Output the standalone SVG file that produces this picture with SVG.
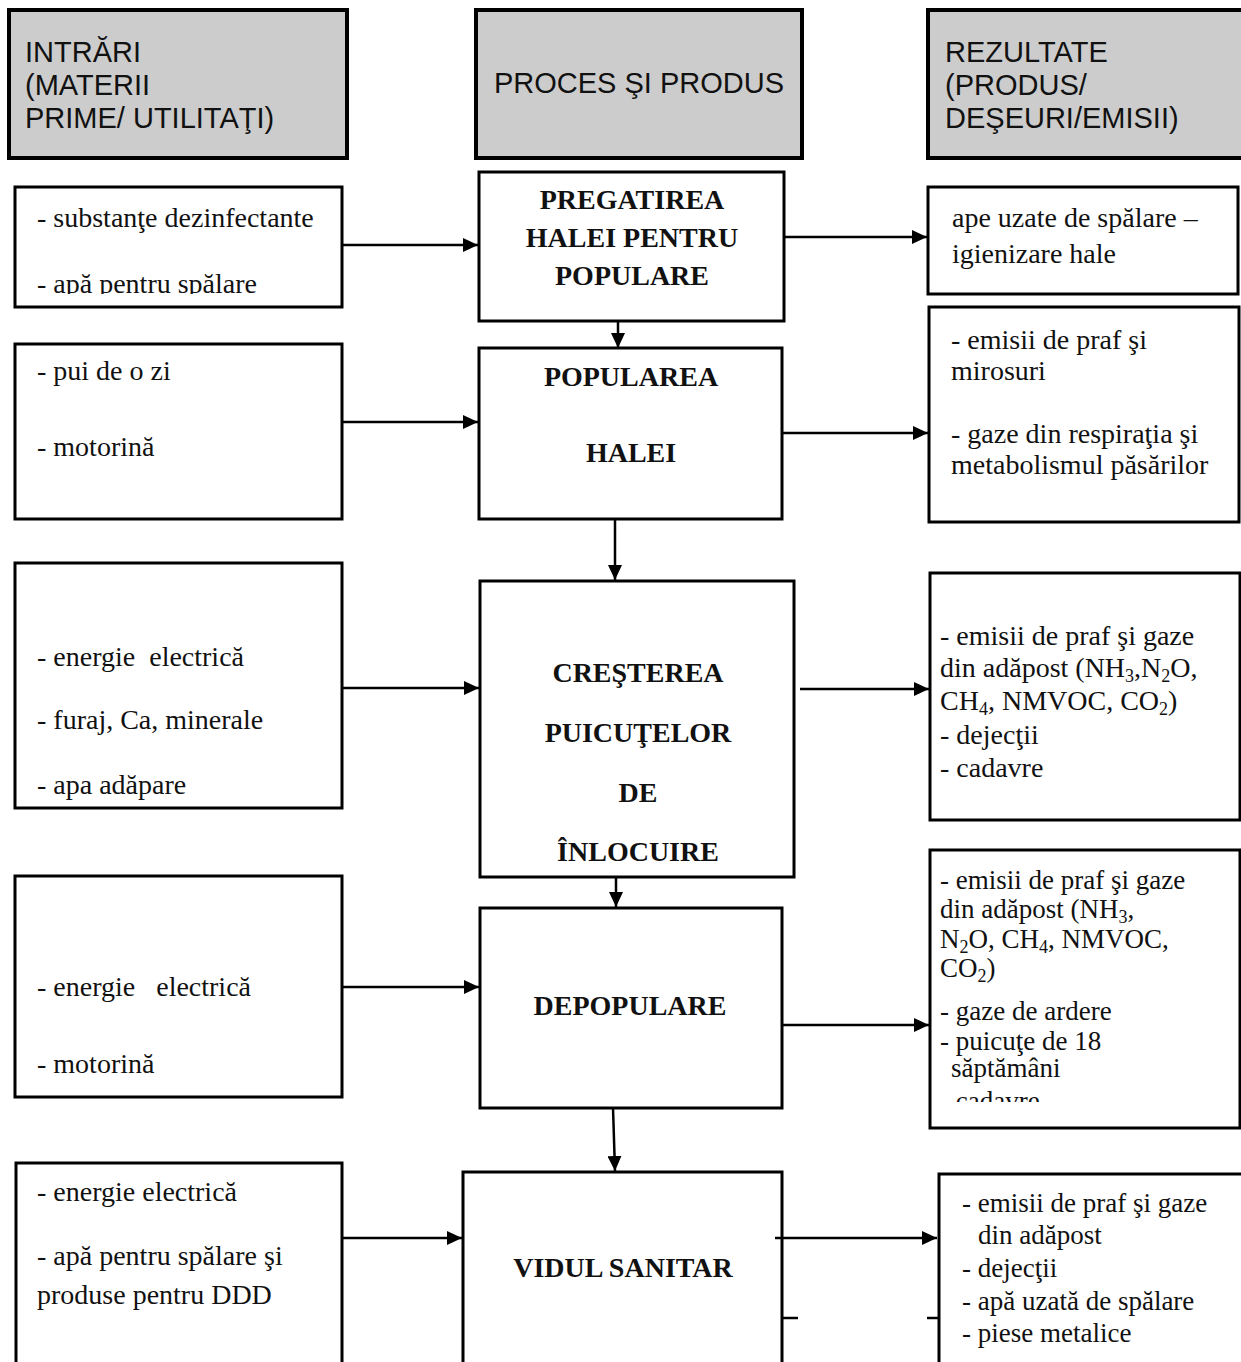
<svg xmlns="http://www.w3.org/2000/svg" width="1241" height="1362" viewBox="0 0 1241 1362">
<style>
.hdr{fill:#cccccc;stroke:#000;stroke-width:4}
.box{fill:#fff;stroke:#000;stroke-width:3}
.ht{font-family:"Liberation Sans",Arial,sans-serif;font-size:29px;fill:#111}
.pt{font-family:"Liberation Serif","Times New Roman",serif;font-size:28px;font-weight:bold;fill:#111;text-anchor:middle}
.bt{font-family:"Liberation Serif","Times New Roman",serif;font-size:28px;fill:#111}
.sm{font-size:27px}
.sub{font-size:18px}
.con{stroke:#000;stroke-width:2.5;fill:none}
</style>
<defs>
<marker id="ah" markerUnits="userSpaceOnUse" markerWidth="16" markerHeight="14" refX="15" refY="7" orient="auto">
<path d="M0,0 L15,7 L0,14 Z" fill="#000"/>
</marker>
<clipPath id="cl1"><rect x="15" y="187" width="327" height="107"/></clipPath>
<clipPath id="cr4"><rect x="930" y="850" width="310" height="252"/></clipPath>
</defs>

<g id="hdr-in"><rect class="hdr" x="9" y="10" width="338" height="148"/>
<text class="ht" x="25"><tspan x="25" y="62">INTRĂRI</tspan><tspan x="25" y="95">(MATERII</tspan><tspan x="25" y="128">PRIME/ UTILITAŢI)</tspan></text></g>
<g id="hdr-proc"><rect class="hdr" x="476" y="10" width="326" height="148"/>
<text class="ht" x="639" y="93" text-anchor="middle">PROCES ŞI PRODUS</text></g>
<g id="hdr-out"><rect class="hdr" x="928" y="10" width="330" height="148"/>
<text class="ht"><tspan x="945" y="62">REZULTATE</tspan><tspan x="945" y="95">(PRODUS/</tspan><tspan x="945" y="128">DEŞEURI/EMISII)</tspan></text></g>

<g id="in1"><rect class="box" x="15" y="187" width="327" height="120"/>
<g clip-path="url(#cl1)"><text class="bt"><tspan x="37" y="227">- substanţe dezinfectante</tspan><tspan x="37" y="293">- apă pentru spălare</tspan></text></g></g>
<g id="in2"><rect class="box" x="15" y="344" width="327" height="175"/>
<text class="bt"><tspan x="37" y="380">- pui de o zi</tspan><tspan x="37" y="456">- motorină</tspan></text></g>
<g id="in3"><rect class="box" x="15" y="563" width="327" height="245"/>
<text class="bt"><tspan x="37" y="666" xml:space="preserve">- energie  electrică</tspan><tspan x="37" y="729">- furaj, Ca, minerale</tspan><tspan x="37" y="794">- apa adăpare</tspan></text></g>
<g id="in4"><rect class="box" x="15" y="876" width="327" height="221"/>
<text class="bt"><tspan x="37" y="996" xml:space="preserve">- energie   electrică</tspan><tspan x="37" y="1073">- motorină</tspan></text></g>
<g id="in5"><rect class="box" x="16" y="1163" width="326" height="220"/>
<text class="bt"><tspan x="37" y="1201">- energie electrică</tspan><tspan x="37" y="1265">- apă pentru spălare şi</tspan><tspan x="37" y="1304">produse pentru DDD</tspan></text></g>

<g id="p1"><rect class="box" x="479" y="172" width="305" height="149"/>
<text class="pt"><tspan x="632" y="209">PREGATIREA</tspan><tspan x="632" y="247">HALEI PENTRU</tspan><tspan x="632" y="285">POPULARE</tspan></text></g>
<g id="p2"><rect class="box" x="479" y="348" width="303" height="171"/>
<text class="pt"><tspan x="631" y="386">POPULAREA</tspan><tspan x="631" y="462">HALEI</tspan></text></g>
<g id="p3"><rect class="box" x="480" y="581" width="314" height="296"/>
<text class="pt"><tspan x="638" y="682">CREŞTEREA</tspan><tspan x="638" y="742">PUICUŢELOR</tspan><tspan x="638" y="802">DE</tspan><tspan x="638" y="861">ÎNLOCUIRE</tspan></text></g>
<g id="p4"><rect class="box" x="480" y="908" width="302" height="200"/>
<text class="pt" x="630" y="1015">DEPOPULARE</text></g>
<g id="p5"><rect class="box" x="463" y="1172" width="319" height="220"/>
<text class="pt" x="623" y="1277">VIDUL SANITAR</text></g>

<g id="out1"><rect class="box" x="928" y="187" width="310" height="107"/>
<text class="bt"><tspan x="952" y="227">ape uzate de spălare –</tspan><tspan x="952" y="263">igienizare hale</tspan></text></g>
<g id="out2"><rect class="box" x="929" y="307" width="310" height="215"/>
<text class="bt"><tspan x="951" y="349">- emisii de praf şi</tspan><tspan x="951" y="380">mirosuri</tspan><tspan x="951" y="443">- gaze din respiraţia şi</tspan><tspan x="951" y="474">metabolismul păsărilor</tspan></text></g>
<g id="out3"><rect class="box" x="930" y="573" width="310" height="247"/>
<text class="bt"><tspan x="940" y="645">- emisii de praf şi gaze</tspan><tspan x="940" y="677">din adăpost (NH<tspan class="sub" dy="5">3</tspan><tspan dy="-5">,N</tspan><tspan class="sub" dy="5">2</tspan><tspan dy="-5">O,</tspan></tspan><tspan x="940" y="710">CH<tspan class="sub" dy="5">4</tspan><tspan dy="-5">, NMVOC, CO</tspan><tspan class="sub" dy="5">2</tspan><tspan dy="-5">)</tspan></tspan><tspan x="940" y="744">- dejecţii</tspan><tspan x="940" y="777">- cadavre</tspan></text></g>
<g id="out4"><rect class="box" x="930" y="850" width="310" height="278"/>
<g clip-path="url(#cr4)"><text class="bt sm"><tspan x="940" y="889">- emisii de praf şi gaze</tspan><tspan x="940" y="918">din adăpost (NH<tspan class="sub" dy="5">3</tspan><tspan dy="-5">,</tspan></tspan><tspan x="940" y="948">N<tspan class="sub" dy="5">2</tspan><tspan dy="-5">O, CH</tspan><tspan class="sub" dy="5">4</tspan><tspan dy="-5">, NMVOC,</tspan></tspan><tspan x="940" y="977">CO<tspan class="sub" dy="5">2</tspan><tspan dy="-5">)</tspan></tspan><tspan x="940" y="1020">- gaze de ardere</tspan><tspan x="940" y="1050">- puicuţe de 18</tspan><tspan x="951" y="1077">săptămâni</tspan><tspan x="940" y="1110">- cadavre</tspan></text></g></g>
<g id="out5"><rect class="box" x="939" y="1174" width="320" height="220"/>
<text class="bt sm"><tspan x="962" y="1212">- emisii de praf şi gaze</tspan><tspan x="978" y="1244">din adăpost</tspan><tspan x="962" y="1277">- dejecţii</tspan><tspan x="962" y="1310">- apă uzată de spălare</tspan><tspan x="962" y="1342">- piese metalice</tspan></text></g>

<g id="connectors">
<line class="con" x1="342" y1="245" x2="478" y2="245" marker-end="url(#ah)"/>
<line class="con" x1="784" y1="237" x2="927" y2="237" marker-end="url(#ah)"/>
<line class="con" x1="618" y1="321" x2="618" y2="348" marker-end="url(#ah)"/>
<line class="con" x1="342" y1="422" x2="478" y2="422" marker-end="url(#ah)"/>
<line class="con" x1="782" y1="433" x2="928" y2="433" marker-end="url(#ah)"/>
<line class="con" x1="615" y1="520" x2="615" y2="580" marker-end="url(#ah)"/>
<line class="con" x1="342" y1="688" x2="479" y2="688" marker-end="url(#ah)"/>
<line class="con" x1="800" y1="689" x2="929" y2="689" marker-end="url(#ah)"/>
<line class="con" x1="616" y1="877" x2="616" y2="907" marker-end="url(#ah)"/>
<line class="con" x1="342" y1="987" x2="479" y2="987" marker-end="url(#ah)"/>
<line class="con" x1="782" y1="1025" x2="929" y2="1025" marker-end="url(#ah)"/>
<line class="con" x1="613" y1="1108" x2="615" y2="1171" marker-end="url(#ah)"/>
<line class="con" x1="342" y1="1238" x2="462" y2="1238" marker-end="url(#ah)"/>
<line class="con" x1="775" y1="1238" x2="937" y2="1238" marker-end="url(#ah)"/>
<line class="con" x1="782" y1="1318" x2="798" y2="1318" stroke-width="3"/>
<line class="con" x1="927" y1="1318" x2="940" y2="1318" stroke-width="3"/>
</g>
</svg>
